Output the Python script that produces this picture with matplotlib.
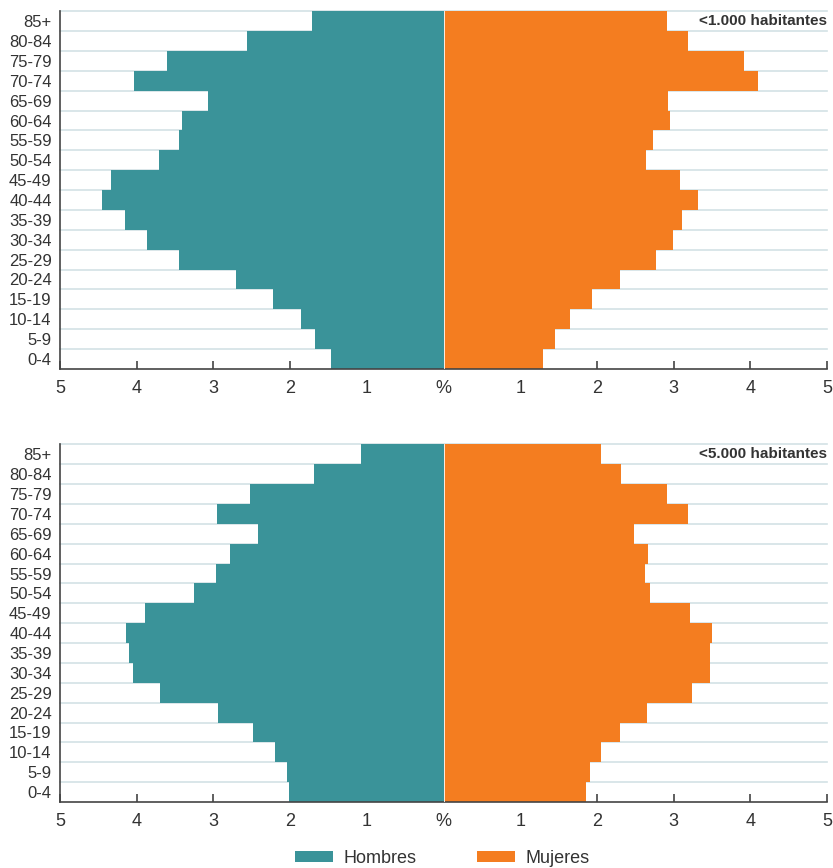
import matplotlib
matplotlib.use("Agg")
import matplotlib.pyplot as plt
from matplotlib.patches import Patch

plt.rcParams['font.family'] = ['Liberation Sans', 'DejaVu Sans']

ages = ['0-4', '5-9', '10-14', '15-19', '20-24', '25-29', '30-34', '35-39', '40-44',
        '45-49', '50-54', '55-59', '60-64', '65-69', '70-74', '75-79', '80-84', '85+']

# <1.000 habitantes
men_1000 = [1.47, 1.67, 1.86, 2.22, 2.71, 3.45, 3.87, 4.15, 4.45,
            4.33, 3.71, 3.45, 3.41, 3.07, 4.03, 3.60, 2.56, 1.71]
women_1000 = [1.30, 1.45, 1.65, 1.94, 2.30, 2.77, 2.99, 3.11, 3.31,
              3.08, 2.64, 2.73, 2.95, 2.93, 4.10, 3.92, 3.19, 2.91]

# <5.000 habitantes
men_5000 = [2.01, 2.04, 2.20, 2.48, 2.94, 3.70, 4.05, 4.10, 4.14,
            3.89, 3.25, 2.97, 2.78, 2.42, 2.95, 2.52, 1.69, 1.07]
women_5000 = [1.86, 1.91, 2.05, 2.30, 2.65, 3.24, 3.47, 3.47, 3.50,
              3.21, 2.69, 2.63, 2.67, 2.48, 3.19, 2.91, 2.31, 2.05]

titles = ['<1.000 habitantes', '<5.000 habitantes']
xticks = [-5, -4, -3, -2, -1, 0, 1, 2, 3, 4, 5]
xticklabels = ['5', '4', '3', '2', '1', '%', '1', '2', '3', '4', '5']

teal = '#3a9399'
orange = '#f47d20'
grid_c = '#d3e2e5'
txt = '#333333'

fig = plt.figure(figsize=(8.33, 8.68), dpi=100)
ax1 = fig.add_axes([0.072, 0.575, 0.921, 0.412])
ax2 = fig.add_axes([0.072, 0.076, 0.921, 0.412])

for ax, men, women, title in [(ax1, men_1000, women_1000, titles[0]),
                              (ax2, men_5000, women_5000, titles[1])]:
    y = range(len(ages))
    for b in range(len(ages)):
        ax.axhline(b + 0.5, color=grid_c, lw=1.2, zorder=0, clip_on=False)
    ax.barh(y, [-m for m in men], height=1.0, color=teal, edgecolor='none', zorder=2)
    ax.barh(y, women, height=1.0, color=orange, edgecolor='none', zorder=2)
    ax.axvline(0, color='white', lw=0.6, zorder=3)
    ax.set_xlim(-5, 5)
    ax.set_ylim(-0.5, len(ages) - 0.5)
    ax.set_yticks(list(y))
    ax.set_yticklabels(ages, fontsize=12, color=txt)
    ax.set_xticks(xticks)
    ax.set_xticklabels(xticklabels, fontsize=13, color=txt)
    ax.tick_params(axis='y', length=0, pad=6)
    ax.tick_params(axis='x', direction='in', length=6, width=1.2, color='#444444', pad=8)
    for s in ['top', 'right']:
        ax.spines[s].set_visible(False)
    ax.spines['left'].set_color('#444444')
    ax.spines['bottom'].set_color('#444444')
    ax.spines['left'].set_linewidth(1.2)
    ax.spines['bottom'].set_linewidth(1.2)
    ax.text(5, len(ages) - 1, title, ha='right', va='center', fontsize=11,
            fontweight='bold', color=txt, zorder=4)

handles = [Patch(facecolor=teal, label='Hombres'), Patch(facecolor=orange, label='Mujeres')]
fig.legend(handles=handles, loc='center', bbox_to_anchor=(0.531, 0.011), ncol=2,
           frameon=False, fontsize=13, handlelength=2.1, handleheight=0.6,
           handletextpad=0.55, columnspacing=3.4, labelcolor=txt)

fig.savefig('out.png', dpi=100)
